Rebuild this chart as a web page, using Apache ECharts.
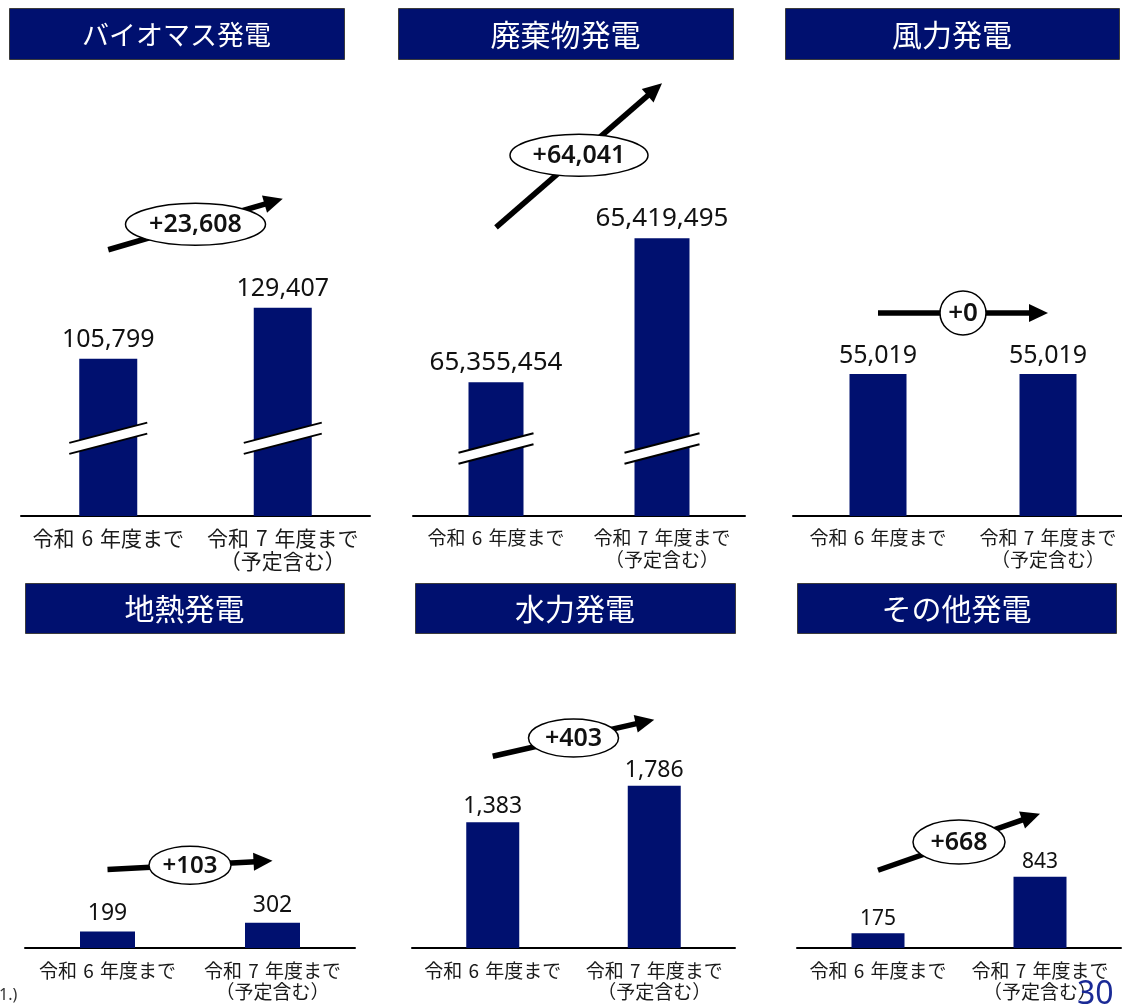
<!DOCTYPE html>
<html><head><meta charset="utf-8">
<script src="https://cdn.jsdelivr.net/npm/echarts@6/dist/echarts.min.js"></script>
<style>html,body{margin:0;padding:0;background:#fff}#c{width:1122px;height:1004px}</style>
</head><body><div id="c"></div>
<script>
// ---------- data ----------
const categories = ['令和\u20046\u2004年度まで', '令和\u20047\u2004年度まで\n（予定含む）'];
const panelTitles = ['バイオマス発電', '廃棄物発電', '風力発電', '地熱発電', '水力発電', 'その他発電'];
const biomass = [105799, 129407];
const waste = [65355454, 65419495];
const wind = [55019, 55019];
const geothermal = [199, 302];
const hydro = [1383, 1786];
const other = [175, 843];
const seriesData = [biomass, waste, wind, geothermal, hydro, other];
// axis scale settings (truncated axes for the two broken panels)
const axisMin = [33000, 65296000, 0, 0, 0, 0];
const axisMax = [225600, 65481000, 161200, 3216, 2948, 3176];
const breakAt = [69000, 65326000, null, null, null, null];

// ---------- layout & style ----------
const NAVY = '#00106F';
const grids = [
  {left: 21, top: 100, width: 349, height: 416},
  {left: 413, top: 100, width: 332, height: 416},
  {left: 793, top: 100, width: 340, height: 416},
  {left: 25, top: 680, width: 330, height: 268},
  {left: 412, top: 680, width: 323, height: 268},
  {left: 797, top: 680, width: 324, height: 268}
];
const titleBoxes = [
  {x: 9, y: 8, w: 335, h: 51, fs: 27},
  {x: 398, y: 8, w: 335, h: 51, fs: 30},
  {x: 785, y: 8, w: 334, h: 51, fs: 30},
  {x: 25, y: 583, w: 319, h: 50, fs: 30},
  {x: 415, y: 583, w: 320, h: 50, fs: 30},
  {x: 797, y: 583, w: 319, h: 50, fs: 30}
];
const barWidths = [58, 55, 57, 55, 53, 53];
const valFont = [25, 26, 25, 23, 23, 21];
const valDist = [6, 7, 6, 6, 4, 4];
const catFont = [21, 19, 19, 19, 19, 19];
const catLH = [23, 22, 22, 21, 21, 21];
const catMargin = [11, 11, 11, 12, 12, 12];
const ann = [
  {off: 109, rx: 70, ry: 21, fs: 25},
  {off: 155, rx: 69, ry: 21, fs: 25},
  {off: 61, rx: 23, ry: 22, fs: 26},
  {off: 62, rx: 41, ry: 19, fs: 24},
  {off: 66, rx: 45, ry: 19, fs: 25},
  {off: 63, rx: 46, ry: 22, fs: 25}
];

const fmt = v => Number(v).toLocaleString('en-US');
const chart = echarts.init(document.getElementById('c'), null, {renderer: 'canvas'});

const option = {
  animation: false,
  grid: grids.map(g => Object.assign({outerBoundsMode: 'none', containLabel: false}, g)),
  xAxis: grids.map((g, i) => ({
    type: 'category', gridIndex: i, data: categories,
    axisTick: {show: false},
    axisLine: {lineStyle: {color: '#000', width: 2}},
    axisLabel: {
      interval: 0, color: '#1a1a1a', fontSize: catFont[i], lineHeight: catLH[i],
      margin: catMargin[i], fontFamily: "'Noto Sans CJK JP', sans-serif"
    }
  })),
  yAxis: grids.map((g, i) => ({
    type: 'value', gridIndex: i, min: axisMin[i], max: axisMax[i], startValue: axisMin[i],
    show: false, splitLine: {show: false}
  })),
  series: seriesData.map((d, i) => ({
    type: 'bar', xAxisIndex: i, yAxisIndex: i, data: d, barWidth: barWidths[i],
    clip: true, silent: true,
    itemStyle: {color: NAVY},
    label: {
      show: true, position: 'top', distance: valDist[i], fontSize: valFont[i],
      color: '#111', fontFamily: "'Noto Sans', sans-serif",
      formatter: p => fmt(p.value)
    }
  }))
};
chart.setOption(option);

// ---------- decorations computed from the chart's scales ----------
const gfx = [];
titleBoxes.forEach((t, i) => {
  gfx.push({type: 'rect', z: 100, shape: {x: t.x + 0.5, y: t.y + 0.5, width: t.w, height: t.h},
    style: {fill: NAVY, stroke: '#3c3c3c', lineWidth: 1}});
  gfx.push({type: 'text', z: 101, x: t.x + t.w / 2, y: t.y + t.h / 2 + 1,
    style: {text: panelTitles[i], fill: '#fff', fontSize: t.fs,
      fontFamily: "'Noto Sans CJK JP', sans-serif", align: 'center', verticalAlign: 'middle'}});
});

seriesData.forEach((d, i) => {
  // break marks
  if (breakAt[i] != null) {
    d.forEach((v, j) => {
      const c = chart.convertToPixel({seriesIndex: i}, [j, breakAt[i]]);
      const hw = barWidths[i] / 2 + 10, k = 0.26, g = 5.5;
      const yU = x => c[1] - g - k * (x - c[0]);
      const yL = x => c[1] + g - k * (x - c[0]);
      const xa = c[0] - hw, xb = c[0] + hw;
      gfx.push({type: 'polygon', z: 100, shape: {points: [[xa, yU(xa)], [xb, yU(xb)], [xb, yL(xb)], [xa, yL(xa)]]},
        style: {fill: '#fff'}});
      gfx.push({type: 'line', z: 101, shape: {x1: xa, y1: yU(xa), x2: xb, y2: yU(xb)}, style: {stroke: '#000', lineWidth: 2}});
      gfx.push({type: 'line', z: 101, shape: {x1: xa, y1: yL(xa), x2: xb, y2: yL(xb)}, style: {stroke: '#000', lineWidth: 2}});
    });
  }
  // change arrow + ellipse
  const a = ann[i];
  const p1 = chart.convertToPixel({seriesIndex: i}, [0, d[0]]);
  const p2 = chart.convertToPixel({seriesIndex: i}, [1, d[1]]);
  const s = [p1[0], p1[1] - a.off], e = [p2[0], p2[1] - a.off];
  const dx = e[0] - s[0], dy = e[1] - s[1], L = Math.hypot(dx, dy);
  const ux = dx / L, uy = dy / L, nx = -uy, ny = ux;
  const hl = 19, hwid = 9;
  const bx = e[0] - ux * hl, by = e[1] - uy * hl;
  gfx.push({type: 'line', z: 110, shape: {x1: s[0], y1: s[1], x2: bx + ux * 2, y2: by + uy * 2},
    style: {stroke: '#000', lineWidth: 5.5}});
  gfx.push({type: 'polygon', z: 110, shape: {points: [[e[0], e[1]], [bx + nx * hwid, by + ny * hwid], [bx - nx * hwid, by - ny * hwid]]},
    style: {fill: '#000'}});
  const mx = (s[0] + e[0]) / 2, my = (s[1] + e[1]) / 2;
  gfx.push({type: 'ellipse', z: 111, shape: {cx: mx, cy: my, rx: a.rx, ry: a.ry},
    style: {fill: '#fff', stroke: '#000', lineWidth: 1.5}});
  gfx.push({type: 'text', z: 112, x: mx, y: my + 1,
    style: {text: '+' + fmt(d[1] - d[0]), fill: '#111', fontSize: a.fs, fontWeight: 600,
      fontFamily: "'Noto Sans', sans-serif", align: 'center', verticalAlign: 'middle'}});
});

// page number and cut-off footnote fragment
gfx.push({type: 'text', z: 120, x: 1077, y: 979,
  style: {text: '30', fill: '#1a2a96', fontSize: 32, fontFamily: "'Noto Sans', sans-serif", align: 'left', verticalAlign: 'top'}});
gfx.push({type: 'text', z: 120, x: -1, y: 987,
  style: {text: '1.)', fill: '#333', fontSize: 16, fontFamily: "'Noto Sans', sans-serif", align: 'left', verticalAlign: 'top'}});

chart.setOption({graphic: {elements: gfx}});
</script>
</body></html>
